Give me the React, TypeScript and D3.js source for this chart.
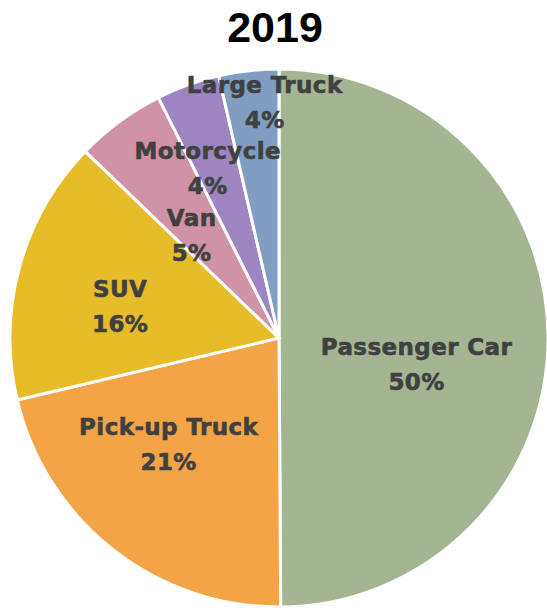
import React from 'react';
import * as d3 from 'd3';

// 2019 share by vehicle type (clockwise from 12 o'clock)
const categories = ['Passenger Car', 'Pick-up Truck', 'SUV', 'Van', 'Motorcycle', 'Large Truck'];
const shares = [49.9, 21.4, 15.9, 5.4, 3.8, 3.6];
const colors = ['#A5B592', '#F3A447', '#E7BC29', '#D092A7', '#9C85C0', '#809EC2'];
const title = '2019';

// label placement (radius, angle nudge in degrees), like excel's best fit
const labelPlace = [
  { r: 140, shift: 11 },
  { r: 153, shift: 8 },
  { r: 162, shift: -4 },
  { r: 135, shift: -4 },
  { r: 184, shift: -3 },
  { r: 236, shift: 3 },
];

const W = 547;
const H = 610;
const cx = 279;
const cy = 338;
const R = 269;

export default function App() {
  const pie = d3.pie<number>().sort(null).value(d => d);
  const arcs = pie(shares);
  const arc = d3.arc<d3.PieArcDatum<number>>().innerRadius(0).outerRadius(R);

  return (
    <svg width={W} height={H} style={{ position: 'absolute', left: 0, top: 0 }}>
      <rect width={W} height={H} fill="#fff" />
      <text x={275} y={42} textAnchor="middle" fontFamily="'Liberation Sans', Arial, sans-serif"
        fontWeight="bold" fontSize={43} fill="#000">{title}</text>
      <g transform={`translate(${cx},${cy})`}>
        {arcs.map((a, i) => (
          <path key={categories[i]} d={arc(a) || ''} fill={colors[i]} stroke="#fff" strokeWidth={3} />
        ))}
        {arcs.map((a, i) => {
          const mid = (a.startAngle + a.endAngle) / 2 + (labelPlace[i].shift * Math.PI) / 180;
          const r = labelPlace[i].r;
          const x = Math.sin(mid) * r;
          const y = -Math.cos(mid) * r;
          return (
            <text key={'l' + i} x={x} y={y} textAnchor="middle" fontFamily="'DejaVu Sans', sans-serif"
              fontWeight="bold" fontSize={23} fill="#404040" stroke="#404040" strokeWidth={0.6}
              letterSpacing={0.4}>
              <tspan x={x} dy={-9}>{categories[i]}</tspan>
              <tspan x={x} dy={35}>{Math.round(shares[i]) + '%'}</tspan>
            </text>
          );
        })}
      </g>
    </svg>
  );
}
